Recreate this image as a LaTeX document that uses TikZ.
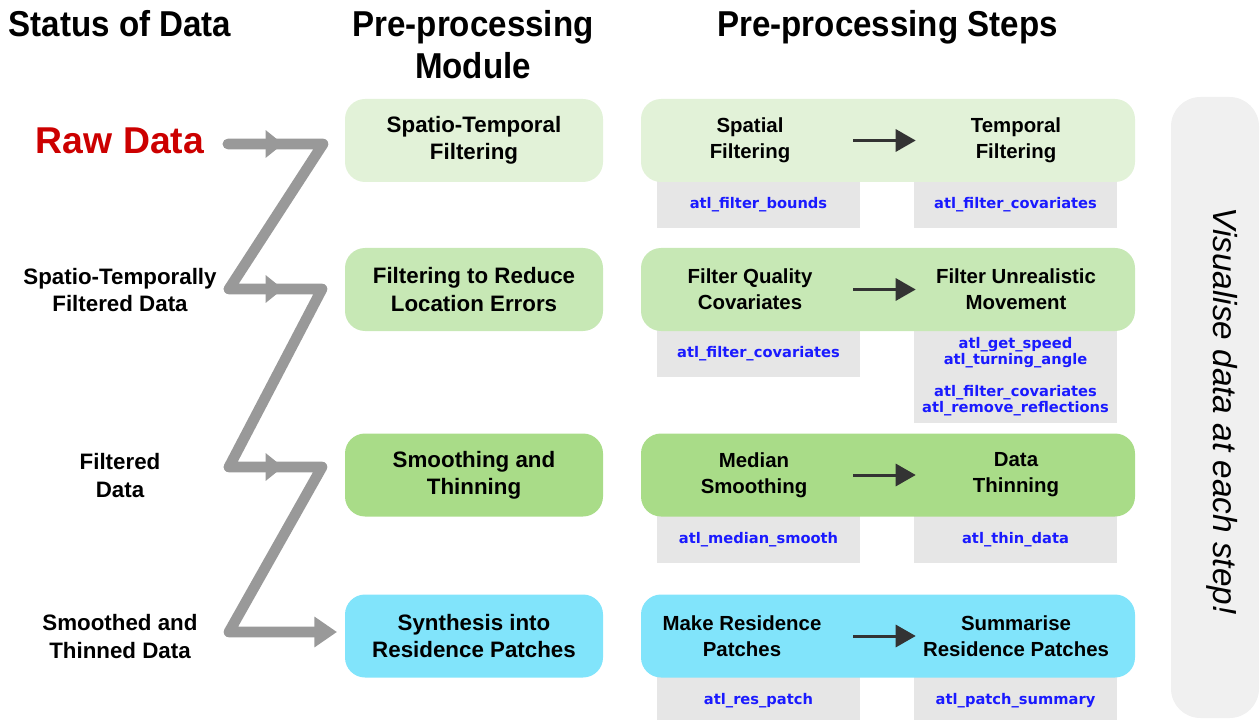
\documentclass[tikz,border=0pt]{standalone}
\usepackage{fontspec}
\setmainfont{Liberation Sans}
\newfontfamily\headfont[FakeStretch=0.92]{Liberation Sans}
\newfontfamily\codefont{DejaVu Sans}
\usepackage{tikz}
\usetikzlibrary{arrows.meta}
\usetikzlibrary{positioning}
\definecolor{rowone}{HTML}{E2F2D8}
\definecolor{rowtwo}{HTML}{C7E8B5}
\definecolor{rowthree}{HTML}{A9DC88}
\definecolor{rowfour}{HTML}{81E4FB}
\definecolor{codegray}{HTML}{E6E6E6}
\definecolor{codeblue}{HTML}{1A1AFF}
\definecolor{panelgray}{HTML}{F0F0F0}
\definecolor{ziggray}{HTML}{999999}
\definecolor{edgegray}{HTML}{333333}
\definecolor{rawred}{HTML}{CC0000}
\tikzset{
  heading/.style={
    align=center,
    font=\headfont\bfseries\fontsize{27}{31}\selectfont
  },
  status/.style={
    align=center,
    font=\bfseries\fontsize{16.75}{20.5}\selectfont
  },
  module/.style={
    rounded corners=15pt,
    minimum width=193.5pt,
    minimum height=62.25pt,
    align=center,
    font=\bfseries\fontsize{16.75}{20.5}\selectfont
  },
  stepbox/.style={
    rounded corners=15pt,
    minimum width=370.5pt,
    minimum height=62.25pt
  },
  steptext/.style={
    minimum width=150pt,
    inner sep=0pt,
    align=center,
    font=\bfseries\fontsize{15.3}{19.5}\selectfont
  },
  codebox/.style={
    fill=codegray,
    anchor=north,
    minimum width=152.25pt,
    minimum height=35.25pt,
    align=center,
    text=codeblue,
    font=\codefont\bfseries\fontsize{11}{12}\selectfont
  },
  zigline/.style={
    draw=ziggray,
    line width=8pt,
    line join=round,
    line cap=round
  },
  stepedge/.style={
    draw=edgegray,
    line width=2.25pt,
    -{Triangle[length=15pt, width=16.5pt]}
  }
}

\begin{document}
\begin{tikzpicture}[x=0.75pt,y=-0.75pt]
  \useasboundingbox (0,0) rectangle (1260,720);

  % Column headings
  \node[heading, anchor=base] (hstatus) at (120,37) {Status of Data};
  \node[heading] (hmodule) at (473,44.5) {Pre-processing\\Module};
  \node[heading, anchor=base] (hsteps) at (887.5,37) {Pre-processing Steps};

  % Status of the data
  \node[font=\bfseries\fontsize{28}{32}\selectfont, text=rawred] (raw) at (120,141) {Raw Data};
  \node[status] (stfilt) at (120,290) {Spatio-Temporally\\Filtered Data};
  \node[status] (filt) at (120,475.5) {Filtered\\Data};
  \node[status] (thin) at (120,636.5) {Smoothed and\\Thinned Data};

  % Side panel
  \path[fill=panelgray, rounded corners=22pt] (1171,97) rectangle (1259,718);
  \node[rotate=-90, font=\itshape\fontsize{25}{30}\selectfont] (visual) at (1222,411) {Visualise data at each step!};

  % Function boxes under each step
  \node[codebox] (c1a) at (758.5,181) {atl\_filter\_bounds};
  \node[codebox] (c1b) at (1015.5,181) {atl\_filter\_covariates};
  \node[codebox] (c2a) at (758.5,330) {atl\_filter\_covariates};
  \node[codebox, minimum height=69.75pt] (c2b) at (1015.5,330)
    {atl\_get\_speed\\atl\_turning\_angle\\[12pt]atl\_filter\_covariates\\atl\_remove\_reflections};
  \node[codebox] (c3a) at (758.5,516) {atl\_median\_smooth};
  \node[codebox] (c3b) at (1015.5,516) {atl\_thin\_data};
  \node[codebox] (c4a) at (758.5,677) {atl\_res\_patch};
  \node[codebox] (c4b) at (1015.5,677) {atl\_patch\_summary};

  % Modules and their step boxes
  \foreach \y/\col [count=\i] in {140.5/rowone, 289.5/rowtwo, 475/rowthree, 636/rowfour} {
    \node[stepbox, fill=\col] (p\i) at (888,\y) {};
  }
  \node[module, fill=rowone] (m1) at (474,140.5) {Spatio-Temporal\\Filtering};
  \node[module, fill=rowtwo] (m2) at (474,289.5) {Filtering to Reduce\\Location Errors};
  \node[module, fill=rowthree] (m3) at (474,475) {Smoothing and\\Thinning};
  \node[module, fill=rowfour] (m4) at (474,636) {Synthesis into\\Residence Patches};

  % Steps inside each module
  \node[steptext] (s1a) at (750,140.5) {Spatial\\Filtering};
  \node[steptext] (s1b) at (1016,140.5) {Temporal\\Filtering};
  \node[steptext] (s2a) at (750,289.5) {Filter Quality\\Covariates};
  \node[steptext] (s2b) at (1016,289.5) {Filter Unrealistic\\Movement};
  \node[steptext, minimum width=144pt] (s3a) at (754,475) {Median\\Smoothing};
  \node[steptext] (s3b) at (1016,475) {Data\\Thinning};
  \node[steptext, minimum width=162pt] (s4a) at (742,636) {Make Residence\\Patches};
  \node[steptext] (s4b) at (1016,636) {Summarise\\Residence Patches};
  \foreach \i in {1,...,4} {
    \draw[stepedge] (s\i a.east) ++(3,0) -- (s\i b);
  }

  % Zigzag from one status to the next
  \coordinate (z0) at (228,144);
  \coordinate (z1) at (323,144);
  \coordinate (z2) at (229,289);
  \coordinate (z3) at (322,289);
  \coordinate (z4) at (229,467);
  \coordinate (z5) at (322,467);
  \coordinate (z6) at (229,632);
  \coordinate (z7) at (337,632);
  \draw[zigline, -{Triangle[length=17pt, width=22pt]}]
    (z0) -- (z1) -- (z2) -- (z3) -- (z4) -- (z5) -- (z6) -- (z7);
  \foreach \a/\y in {0/144, 2/289, 4/467} {
    \coordinate (h\a) at (283,\y);
    \draw[zigline, -{Triangle[length=13pt, width=20pt]}] (z\a) -- (h\a);
  }
\end{tikzpicture}
\end{document}
